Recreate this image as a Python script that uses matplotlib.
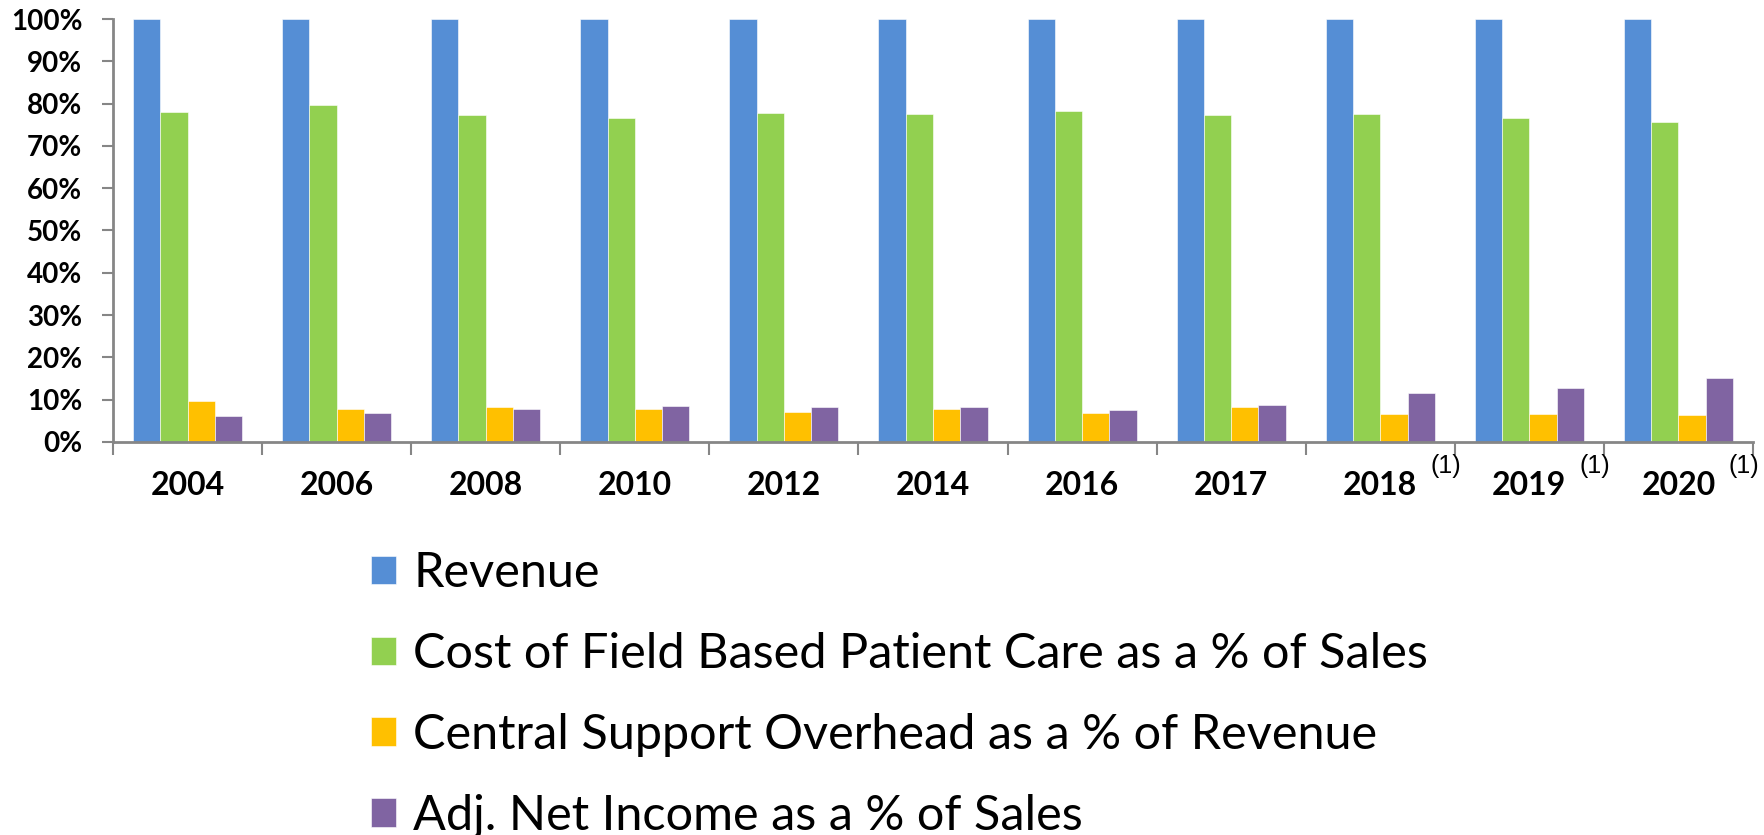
import matplotlib
matplotlib.use("Agg")
import matplotlib.pyplot as plt
import numpy as np
from matplotlib.ticker import PercentFormatter
from matplotlib.transforms import blended_transform_factory

years = ["2004", "2006", "2008", "2010", "2012", "2014", "2016", "2017", "2018", "2019", "2020"]
footnoted = ["2018", "2019", "2020"]
revenue = [100, 100, 100, 100, 100, 100, 100, 100, 100, 100, 100]
field_care = [78.1, 79.6, 77.2, 76.7, 77.8, 77.6, 78.2, 77.2, 77.6, 76.6, 75.7]
central_overhead = [9.6, 7.8, 8.2, 7.9, 7.2, 7.9, 6.9, 8.2, 6.6, 6.6, 6.3]
net_income = [6.1, 6.9, 7.9, 8.5, 8.2, 8.2, 7.6, 8.8, 11.5, 12.8, 15.1]

series_names = ["Revenue",
                "Cost of Field Based Patient Care as a % of Sales",
                "Central Support Overhead as a % of Revenue",
                "Adj. Net Income as a % of Sales"]
colors = ["#558ED5", "#92D050", "#FFC000", "#8064A2"]

plt.rcParams['font.family'] = ['Lato', 'DejaVu Sans']

W, H = 1765, 835
fig = plt.figure(figsize=(W / 100, H / 100), dpi=100)
ax = fig.add_axes([113 / W, 1 - 442 / H, (1753 - 113) / W, (442 - 19) / H])

x = np.arange(len(years))
bw = 0.183
data = [revenue, field_care, central_overhead, net_income]
for i, (vals, c, name) in enumerate(zip(data, colors, series_names)):
    ax.bar(x + (i - 1.5) * bw, vals, width=bw, color=c, label=name,
           edgecolor="white", linewidth=0.4)

ax.set_xlim(-0.5, len(years) - 0.5)
ax.set_ylim(0, 100)
ax.set_yticks(np.arange(0, 101, 10))
ax.yaxis.set_major_formatter(PercentFormatter(decimals=0))

for s in ["top", "right"]:
    ax.spines[s].set_visible(False)
for s in ["left", "bottom"]:
    ax.spines[s].set_color("#868686")
    ax.spines[s].set_linewidth(2)

ax.tick_params(axis="y", direction="out", length=8, width=1.5, color="#868686",
               labelsize=20, pad=14)
for lab in ax.get_yticklabels():
    lab.set_fontweight("bold")

ax.set_xticks(np.arange(-0.5, len(years), 1.0))
ax.set_xticklabels([])
ax.tick_params(axis="x", which="major", direction="out", length=9, width=1.5, color="#868686")
ax.set_xticks(x, minor=True)
ax.set_xticklabels(years, minor=True, fontsize=23, fontweight="bold")
ax.tick_params(axis="x", which="minor", length=0, pad=21)

tr = blended_transform_factory(ax.transData, fig.transFigure)
for yr in footnoted:
    i = years.index(yr)
    ax.text(i + 0.44, 1 - 466 / H, "(1)", transform=tr, fontsize=18,
            family=["Liberation Sans", "DejaVu Sans"], ha="center", va="center")

leg = fig.legend(loc="upper left", bbox_to_anchor=(371 / W, 1 - 551 / H),
                 frameon=False, fontsize=35, handlelength=0.52, handleheight=0.52,
                 handletextpad=0.35, labelspacing=0.76, borderaxespad=0, borderpad=0)

fig.savefig("out.png", dpi=100, facecolor="white")
